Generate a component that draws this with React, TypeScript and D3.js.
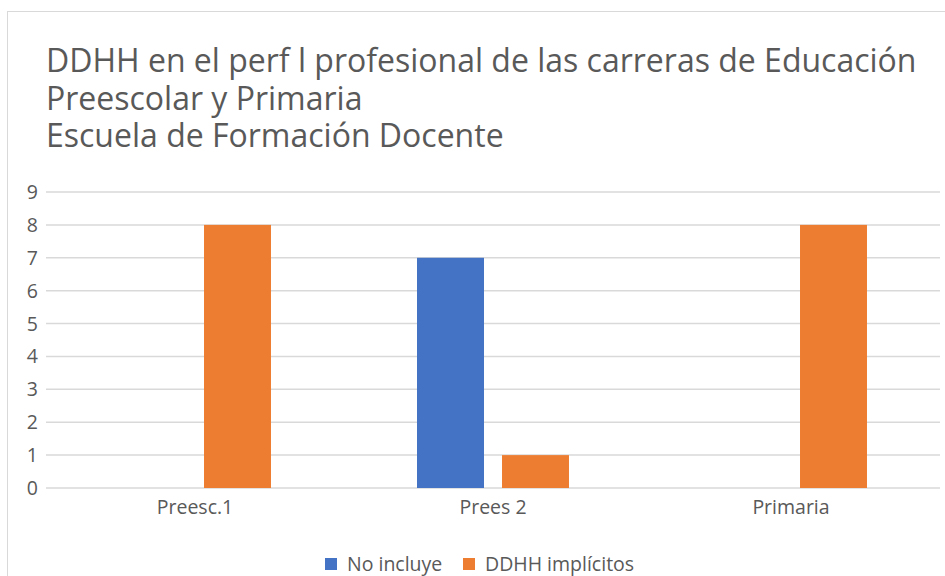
import * as d3 from "d3";
import React from "react";

const categories = ["Preesc.1", "Prees 2", "Primaria"];
const seriesNames = ["No incluye", "DDHH implícitos"];
const noIncluye = [0, 7, 0];
const ddhhImplicitos = [8, 1, 8];
const yTicks = [0, 1, 2, 3, 4, 5, 6, 7, 8, 9];
const titleLines = [
  "DDHH en el perf l profesional de las carreras de Educación",
  "Preescolar y Primaria",
  "Escuela de Formación Docente",
];
const colors = ["#4472c4", "#ed7d31"];

const W = 945;
const H = 576;
const FONT = "'Open Sans', sans-serif";

export default function App() {
  const x0 = d3.scaleBand<string>().domain(categories).range([46, 940]).paddingInner(0.49).paddingOuter(0.245);
  const x1 = d3.scaleBand<string>().domain(seriesNames).range([0, x0.bandwidth()]).paddingInner(0.212);
  const y = d3.scaleLinear().domain([0, 9]).range([488, 192]);

  const rows = categories.map((c, i) => ({ cat: c, values: [noIncluye[i], ddhhImplicitos[i]] }));

  return (
    <svg width={W} height={H} style={{ position: "absolute", left: 0, top: 0, background: "#fff" }} fontFamily={FONT}>
      <rect x={7.5} y={11.5} width={W} height={H} fill="#fff" stroke="#d9d9d9" strokeWidth={1} />
      {/* title as one text block, lines are tspans */}
      <text fill="#595959" fontSize={32} x={46} y={72}>
        {titleLines.map((t, i) => (
          <tspan key={i} x={46} dy={i === 0 ? 0 : 37.5}>{t}</tspan>
        ))}
      </text>
      <g>
        {yTicks.map((t) => (
          <g key={t}>
            <line x1={46} x2={940} y1={y(t)} y2={y(t)} stroke="#d9d9d9" strokeWidth={1.5} />
            <text x={38} y={y(t)} dy="0.36em" textAnchor="end" fontSize={19.5} fill="#595959">{t}</text>
          </g>
        ))}
      </g>
      <g>
        {rows.map((r) => (
          <g key={r.cat} transform={`translate(${x0(r.cat)},0)`}>
            {r.values.map((v, j) =>
              v > 0 ? (
                <rect key={j} x={x1(seriesNames[j])} y={y(v)} width={x1.bandwidth()} height={y(0) - y(v)} fill={colors[j]} />
              ) : null
            )}
          </g>
        ))}
      </g>
      <g>
        {categories.map((c) => (
          <text key={c} x={(x0(c) as number) + x0.bandwidth() / 2} y={514} textAnchor="middle" fontSize={19.5} fill="#595959">{c}</text>
        ))}
      </g>
      <g fontSize={19.5} fill="#595959">
        <rect x={325} y={558} width={12} height={12} fill={colors[0]} />
        <text x={347} y={571}>{seriesNames[0]}</text>
        <rect x={463} y={558} width={12} height={12} fill={colors[1]} />
        <text x={485} y={571}>{seriesNames[1]}</text>
      </g>
    </svg>
  );
}
